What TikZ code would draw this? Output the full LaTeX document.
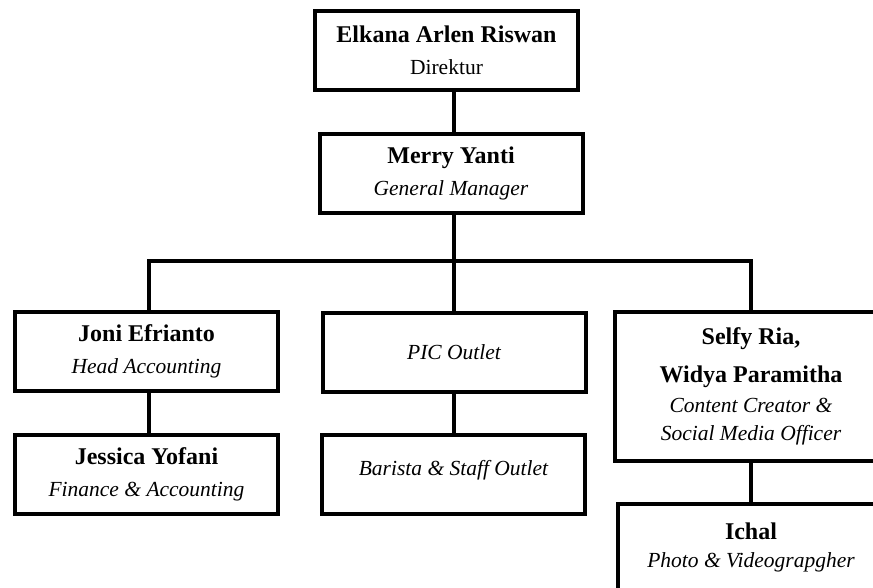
\documentclass[tikz,border=0pt]{standalone}
\usepackage{fontspec}
\setmainfont{Liberation Serif}
\newcommand{\nm}[1]{{\fontsize{24}{30}\selectfont\bfseries #1}}
\newcommand{\rl}[1]{{\itshape #1}}
\begin{document}
\begin{tikzpicture}[x=1pt,y=-1pt,
  box/.style={draw,line width=4pt,inner sep=0pt,align=center,
    minimum width=263pt,minimum height=79pt,
    font=\fontsize{21.5}{30}\selectfont},
  link/.style={line width=4pt}]
\useasboundingbox (0,0) rectangle (873,588);

% direktur and manager
\node[box] (dir) at (446.5,50.5) {\nm{Elkana Arlen Riswan}\\[2pt]Direktur};
\node[box] (gm) at (451,173.5) {\nm{Merry Yanti}\\[2pt]\rl{General Manager}};

% second row
\node[box] (acc) at (146.5,351.5) {\nm{Joni Efrianto}\\[2pt]\rl{Head Accounting}};
\node[box] (pic) at (454,352) {\rl{PIC Outlet}};
\node[box,minimum width=272pt,minimum height=149pt] (cc) at (751,386.5)
  {\nm{Selfy Ria,}\\[8pt]\nm{Widya Paramitha}\\[0pt]\rl{Content Creator \&}\\[-2pt]\rl{Social Media Officer}};

% third row
\node[box] (fin) at (146.5,474) {\nm{Jessica Yofani}\\[2pt]\rl{Finance \& Accounting}};
\node[box] (bar) at (453.5,474) {\raisebox{12pt}{\rl{Barista \& Staff Outlet}}};
\node[box,minimum width=266pt,minimum height=86pt] (pv) at (751,547)
  {\nm{Ichal}\\[-2pt]\rl{Photo \& Videograpgher}};

% connectors
\coordinate (trunk) at (454,261);
\coordinate (busL) at (149,261);
\coordinate (busR) at (751,261);
\draw[link] (dir.south -| trunk) -- (gm.north -| trunk);
\draw[link] (gm.south -| trunk) -- (pic.north -| trunk);
\draw[link] (acc.north -| busL) -- (busL) -- (busR) -- (cc.north -| busR);
\draw[link] (acc.south -| busL) -- (fin.north -| busL);
\draw[link] (pic.south -| trunk) -- (bar.north -| trunk);
\draw[link] (cc.south -| busR) -- (pv.north -| busR);

\end{tikzpicture}
\end{document}
